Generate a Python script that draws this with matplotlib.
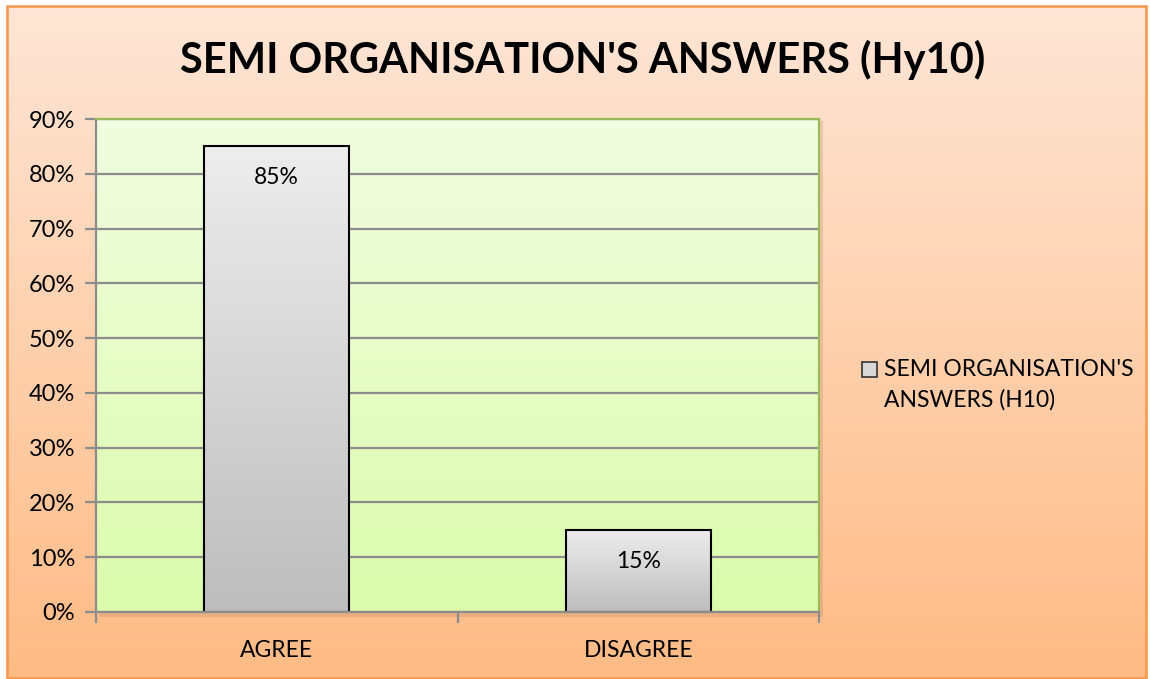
import numpy as np
import matplotlib
matplotlib.use("Agg")
import matplotlib.pyplot as plt
from matplotlib.patches import Rectangle
from matplotlib.colors import LinearSegmentedColormap

categories = ["AGREE", "DISAGREE"]
values = [0.85, 0.15]
value_labels = ["85%", "15%"]
yticks = [0.0, 0.1, 0.2, 0.3, 0.4, 0.5, 0.6, 0.7, 0.8, 0.9]
ytick_labels = ["0%", "10%", "20%", "30%", "40%", "50%", "60%", "70%", "80%", "90%"]
title = "SEMI ORGANISATION'S ANSWERS (Hy10)"
legend_label = "SEMI ORGANISATION'S\nANSWERS (H10)"

plt.rcParams['font.family'] = ['Lato', 'DejaVu Sans']

W, H = 1150, 679
fig = plt.figure(figsize=(W / 100, H / 100), dpi=100, facecolor="white")

# background gradient inside orange frame
bg = fig.add_axes([0, 0, 1, 1], zorder=-10)
bg.set_xlim(0, W)
bg.set_ylim(H, 0)
bg.axis("off")
bg_cmap = LinearSegmentedColormap.from_list("bg", ["#FEE6D6", "#FFBB85"])
grad = np.linspace(0, 1, 256).reshape(-1, 1)
bg.imshow(grad, cmap=bg_cmap, extent=[7, 1146, 678, 6], aspect="auto", zorder=0)
bg.add_patch(Rectangle((7, 6), 1139, 672, fill=False, edgecolor="#F79646", lw=1.8, zorder=2))
# subtle plot-area shadow
bg.add_patch(Rectangle((99, 121), 724, 496, facecolor="#B08060", alpha=0.25, edgecolor="none", zorder=1))

ax = fig.add_axes([96 / W, 1 - 612 / H, (819 - 96) / W, (612 - 119) / H], zorder=0)
ax.set_xlim(-0.5, 1.5)
ax.set_ylim(0, 0.9)

# plot-area gradient
pa_cmap = LinearSegmentedColormap.from_list("pa", ["#DBFBAC", "#F2FDE1"])
ax.imshow(grad, cmap=pa_cmap, extent=[0, 1, 0, 1], transform=ax.transAxes,
          aspect="auto", origin="lower", zorder=0)

ax.set_yticks(yticks)
ax.set_yticklabels(ytick_labels, fontsize=17)
ax.yaxis.grid(True, color="#8C8C8C", lw=1.6, zorder=1)
for gl in ax.get_ygridlines():
    gl.set_zorder(1)

x = np.arange(len(categories))
ax.set_xticks(x)
ax.set_xticklabels(categories, fontsize=16.5)
ax.set_xticks([-0.5, 0.5, 1.5], minor=True)
ax.tick_params(axis="x", which="major", length=0, pad=20)
ax.tick_params(axis="x", which="minor", length=8, width=1.6, color="#8C8C8C")
ax.tick_params(axis="y", length=8, width=1.6, color="#8C8C8C", pad=7)

bars = ax.bar(x, values, width=0.4, facecolor="none", edgecolor="black", lw=1.5, zorder=3)
bar_cmap = LinearSegmentedColormap.from_list("bar", ["#BDBDBD", "#EDEDED"])
for b, lab in zip(bars, value_labels):
    bx, by = b.get_x(), b.get_y()
    bw, bh = b.get_width(), b.get_height()
    ax.imshow(grad, cmap=bar_cmap, extent=[bx, bx + bw, by, by + bh],
              aspect="auto", origin="lower", zorder=2)
    ax.text(bx + bw / 2, by + bh - 0.057, lab, ha="center", va="center",
            fontsize=16.5, color="black", zorder=4)

ax.set_aspect("auto")
for side in ["left", "bottom"]:
    ax.spines[side].set_color("#8C8C8C")
    ax.spines[side].set_linewidth(1.6)
for side in ["top", "right"]:
    ax.spines[side].set_color("#9BBB59")
    ax.spines[side].set_linewidth(1.6)
for s in ax.spines.values():
    s.set_zorder(5)

# title
fig.text(583 / W, 1 - 60 / H, title, ha="center", va="center",
         fontsize=30, fontweight="bold", color="black")

# legend
bg.add_patch(Rectangle((862, 362), 15, 15, facecolor="#D8D8D8", edgecolor="#333333", lw=1.2, zorder=3))
bg.text(884, 385, legend_label, ha="left", va="center", fontsize=16.5,
        linespacing=1.5, color="black", zorder=3)

fig.savefig("out.png", dpi=100, facecolor="white")
